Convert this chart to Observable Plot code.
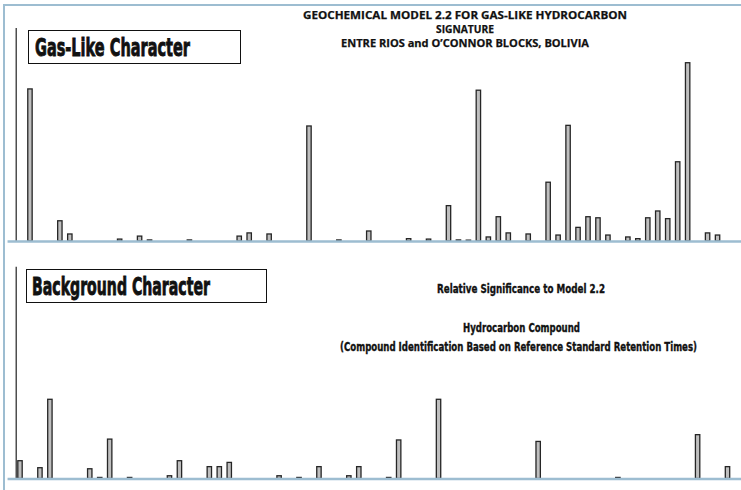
<!DOCTYPE html>
<html>
<head>
<meta charset="utf-8">
<script src="https://cdn.jsdelivr.net/npm/d3@7"></script>
<script src="https://cdn.jsdelivr.net/npm/@observablehq/plot@0.6"></script>
<style>
  html, body { margin: 0; padding: 0; background: #fff; }
  #wrap { position: relative; width: 741px; height: 490px; overflow: hidden; background: #fff; }
  #wrap > svg { position: absolute; left: 0; }
  .frame { position: absolute; left: 3px; top: 4px; width: 740px; height: 490px;
           border-top: 2.5px solid #9dbdd1; border-left: 2.5px solid #9dbdd1; box-sizing: border-box; }
  .box { position: absolute; border: 1.5px solid #111; box-sizing: border-box; }
  .lbl { position: absolute; white-space: nowrap; line-height: 1; color: #111; transform-origin: 0 50%; }
</style>
</head>
<body>
<div id="wrap"><div class="frame"></div></div>
<script>
// ---- data: compound slot index (retention-time order) and relative significance ----
const gasSlots = [1,4,5,10,12,13,17,22,23,25,29,32,35,39,41,43,44,45,46,47,48,49,51,53,54,55,56,57,58,59,61,62,63,64,65,66,67,69,70];
const gasValues = [71.4,9.5,3.3,0.9,2.3,0.5,0.5,2.3,3.8,3.3,54.0,0.5,4.7,1.1,0.9,16.6,0.5,0.4,70.8,1.9,11.4,3.8,3.3,27.6,2.8,54.3,6.4,11.4,10.9,2.8,1.9,1.1,10.9,14.1,10.5,37.2,83.7,3.8,2.8];
const bgSlots = [0,2,3,7,8,9,11,15,16,19,20,21,26,28,30,33,34,37,38,42,52,60,68,71];
const bgValues = [8.4,5.1,37.4,4.6,0.5,18.6,0.5,1.3,8.4,5.6,5.6,7.6,1.3,0.5,5.6,1.3,5.6,0.5,18.2,37.4,17.5,0.5,20.7,5.6];

const titleLines = ["GEOCHEMICAL MODEL 2.2 FOR GAS-LIKE HYDROCARBON", "SIGNATURE", "ENTRE RIOS and O\u2019CONNOR BLOCKS, BOLIVIA"];
const panelTitles = ["Gas-Like Character", "Background Character"];
const yLabel = "Relative Significance to Model 2.2";
const xLabel = ["Hydrocarbon Compound", "(Compound Identification Based on Reference Standard Retention Times)"];

const gasData = gasSlots.map((k, i) => ({k, v: gasValues[i]}));
const bgData = bgSlots.map((k, i) => ({k, v: bgValues[i]}));

const BLUE = "#9dbdd1";
const HALF = 0.22;

function panel(data, height, yRange) {
  return Plot.plot({
    width: 741,
    height,
    x: {type: "linear", domain: [0, 71], range: [20, 727.5], axis: null},
    y: {domain: [0, 100], range: yRange, axis: null},
    marks: [
      Plot.ruleX([-0.43], {y1: 0, y2: 100, stroke: "#333", strokeWidth: 1.3}),
      Plot.rect(data, {x1: d => d.k - HALF, x2: d => d.k + HALF, y1: 0, y2: "v",
                       fill: "#bfbfbf", stroke: "#262626", strokeWidth: 1.3}),
      Plot.ruleY([0], {x1: -1.25, x2: 73, stroke: BLUE, strokeWidth: 2.4})
    ]
  });
}

const wrap = document.getElementById("wrap");
const top1 = panel(gasData, 250, [241, 28]);
top1.style.top = "0px";
wrap.appendChild(top1);
const bot = panel(bgData, 240, [228.5, 16.7]);
bot.style.top = "250px";
wrap.appendChild(bot);

function box(l, t, w, h) {
  const b = document.createElement("div");
  b.className = "box";
  Object.assign(b.style, {left: l + "px", top: t + "px", width: w + "px", height: h + "px"});
  wrap.appendChild(b);
}
box(28, 30, 213, 34);
box(26, 269, 241, 34);

function label(txt, {cx, left, cy, width, font, size, weight = 700, stroke = 0}) {
  const el = document.createElement("div");
  el.className = "lbl";
  el.textContent = txt;
  el.style.fontFamily = font;
  el.style.fontSize = size + "px";
  el.style.fontWeight = weight;
  if (stroke) el.style.webkitTextStroke = stroke + "px #111";
  wrap.appendChild(el);
  const r = el.getBoundingClientRect();
  const s = width / r.width;
  const x0 = left !== undefined ? left : cx - width / 2;
  el.style.left = x0 + "px";
  el.style.top = (cy - r.height / 2) + "px";
  el.style.transform = `scaleX(${s})`;
}

const TITLE_FONT = "'Open Sans', 'Noto Sans', sans-serif";
const COND_FONT = "'DejaVu Sans', 'Roboto', sans-serif";

label(titleLines[0], {cx: 465, cy: 14, width: 324, font: TITLE_FONT, size: 11, stroke: 0.25});
label(titleLines[1], {cx: 465, cy: 28, width: 58, font: TITLE_FONT, size: 11, stroke: 0.25});
label(titleLines[2], {cx: 465, cy: 42, width: 248, font: TITLE_FONT, size: 11, stroke: 0.25});

label(panelTitles[0], {left: 35, cy: 48, width: 155, font: COND_FONT, size: 24, stroke: 0.9});
label(panelTitles[1], {left: 32, cy: 287, width: 178, font: COND_FONT, size: 24, stroke: 0.9});

label(yLabel, {cx: 521, cy: 288, width: 168, font: COND_FONT, size: 13, stroke: 0.4});
label(xLabel[0], {cx: 521, cy: 327, width: 117, font: COND_FONT, size: 13, stroke: 0.4});
label(xLabel[1], {cx: 518, cy: 346, width: 357, font: COND_FONT, size: 13, stroke: 0.4});
</script>
</body>
</html>
